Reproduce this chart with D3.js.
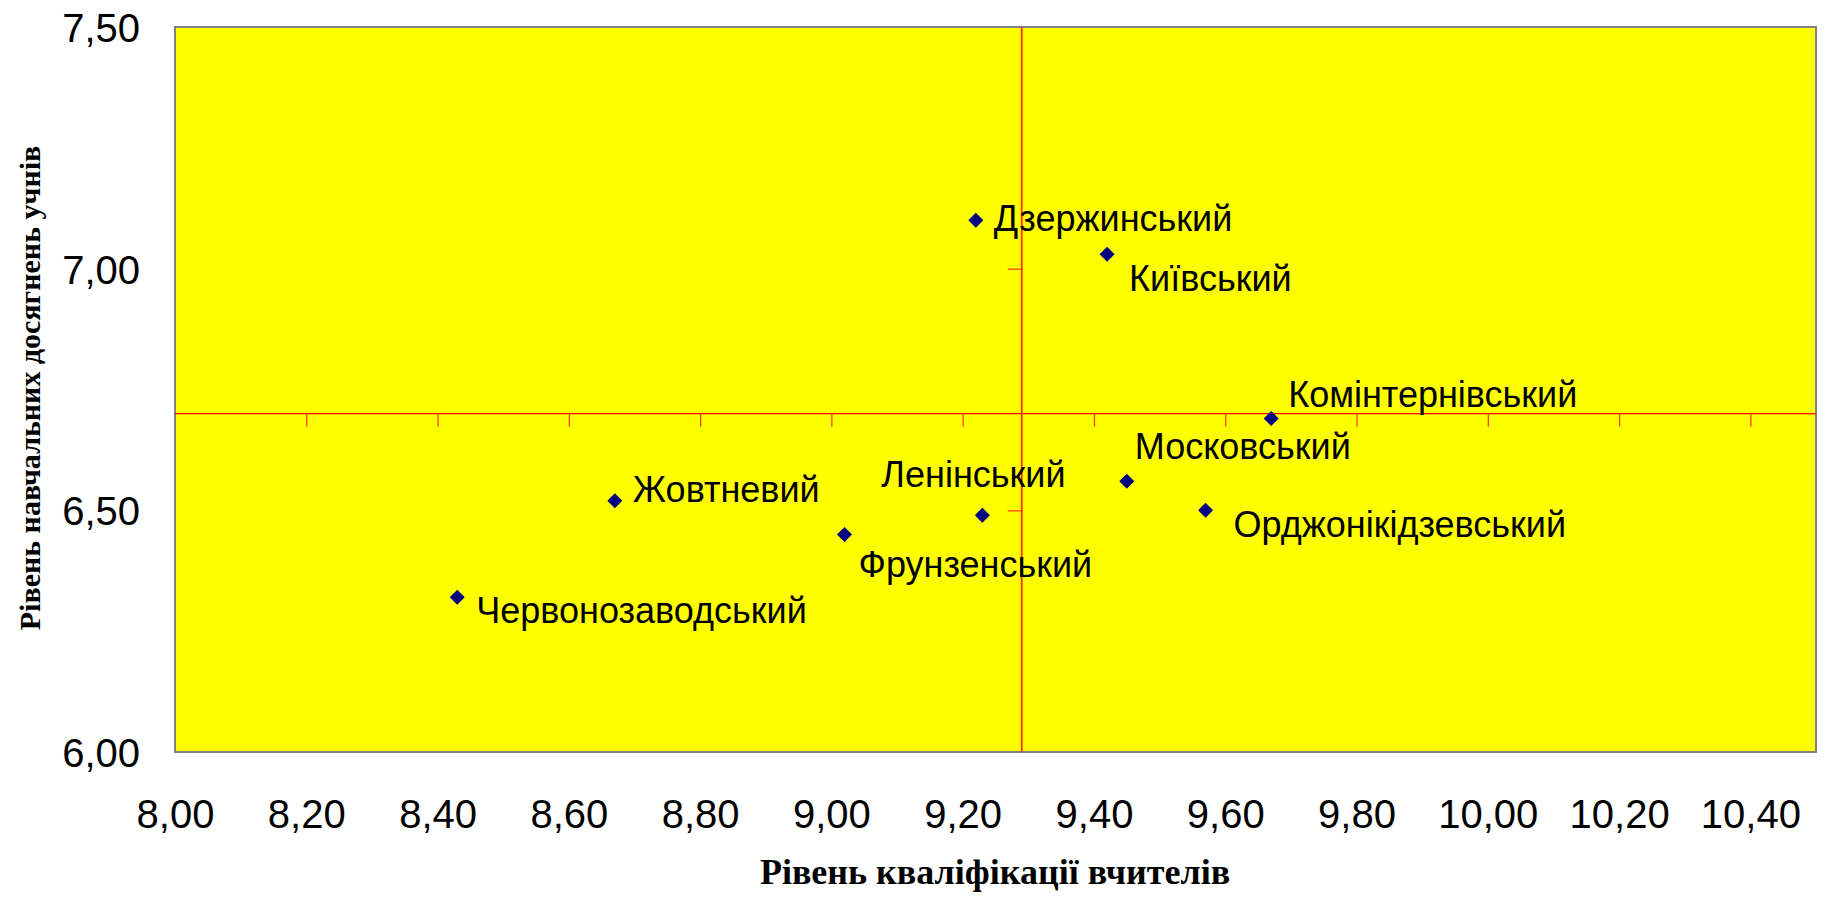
<!DOCTYPE html>
<html>
<head>
<meta charset="utf-8">
<script src="https://cdn.jsdelivr.net/npm/d3@7"></script>
<style>
  html, body { margin: 0; padding: 0; background: #ffffff; }
  svg { display: block; }
</style>
</head>
<body>
<svg id="chart" width="1829" height="897"></svg>
<script>
// ---- data ----
const districts = ["Дзержинський", "Київський", "Комінтернівський", "Московський", "Орджонікідзевський", "Ленінський", "Фрунзенський", "Жовтневий", "Червонозаводський"];
const teacherLevel = [9.22, 9.42, 9.67, 9.45, 9.57, 9.23, 9.02, 8.67, 8.43];
const studentLevel = [7.10, 7.03, 6.69, 6.56, 6.50, 6.49, 6.45, 6.52, 6.32];
const xTicks = [8.0, 8.2, 8.4, 8.6, 8.8, 9.0, 9.2, 9.4, 9.6, 9.8, 10.0, 10.2, 10.4];
const yTicks = [6.0, 6.5, 7.0, 7.5];
const xCross = 9.29;
const yCross = 6.70;
const xTitle = "Рівень кваліфікації вчителів";
const yTitle = "Рівень навчальних досягнень учнів";

// label layout (manual placement offsets, pixels from marker)
const labelOffsets = [[18, 11], [22, 37], [17, -12], [8, -22], [28, 27], [-101, -28], [14, 42], [18, 1], [19, 26]];

// ---- layout ----
const plot = { left: 175, top: 27, right: 1816, bottom: 752 };
const svg = d3.select("#chart");

const x = d3.scaleLinear().domain([8.0, 10.5]).range([plot.left, plot.right]);
const y = d3.scaleLinear().domain([6.0, 7.5]).range([plot.bottom, plot.top]);
const fmt = v => d3.format(".2f")(v).replace(".", ",");

// plot area
svg.append("rect")
  .attr("x", plot.left).attr("y", plot.top)
  .attr("width", plot.right - plot.left).attr("height", plot.bottom - plot.top)
  .attr("fill", "#ffff00").attr("stroke", "#808080").attr("stroke-width", 2);

// crossing axes
svg.append("line")
  .attr("x1", plot.left).attr("x2", plot.right)
  .attr("y1", y(yCross)).attr("y2", y(yCross))
  .attr("stroke", "#ff0000").attr("stroke-width", 1.2);
svg.append("line")
  .attr("x1", x(xCross)).attr("x2", x(xCross))
  .attr("y1", plot.top).attr("y2", plot.bottom)
  .attr("stroke", "#ff3300").attr("stroke-width", 1.8);

// tick marks on crossing axes
const xTickAxis = svg.append("g")
  .attr("transform", `translate(0,${y(yCross)})`)
  .call(d3.axisBottom(x).tickValues(xTicks.filter(v => v > 8.0)).tickSize(13).tickFormat(""));
xTickAxis.select(".domain").remove();
xTickAxis.selectAll("line").attr("stroke", "#ff3300").attr("stroke-width", 1.2);

const yTickAxis = svg.append("g")
  .attr("transform", `translate(${x(xCross)},0)`)
  .call(d3.axisLeft(y).tickValues(yTicks.filter(v => v > 6.0 && v < 7.5)).tickSize(14).tickFormat(""));
yTickAxis.select(".domain").remove();
yTickAxis.selectAll("line").attr("stroke", "#ff3300").attr("stroke-width", 1.2);

// tick labels (outer axes)
const xAxis = svg.append("g")
  .attr("transform", `translate(0,${plot.bottom})`)
  .call(d3.axisBottom(x).tickValues(xTicks).tickSize(0).tickPadding(0).tickFormat(fmt));
xAxis.select(".domain").remove();
xAxis.selectAll("text")
  .attr("y", 76).attr("dy", 0)
  .attr("font-family", "'Liberation Sans', Arial, sans-serif")
  .attr("font-size", 40).attr("fill", "#000");

const yAxis = svg.append("g")
  .attr("transform", `translate(${plot.left},0)`)
  .call(d3.axisLeft(y).tickValues(yTicks).tickSize(0).tickPadding(0).tickFormat(fmt));
yAxis.select(".domain").remove();
yAxis.selectAll("text")
  .attr("x", -35).attr("dy", "0.36em")
  .attr("font-family", "'Liberation Sans', Arial, sans-serif")
  .attr("font-size", 40).attr("fill", "#000");

// axis titles
svg.append("text")
  .attr("x", 995).attr("y", 884)
  .attr("text-anchor", "middle")
  .attr("font-family", "'Liberation Serif', 'Times New Roman', serif")
  .attr("font-weight", "bold").attr("font-size", 36)
  .text(xTitle);
svg.append("text")
  .attr("transform", "translate(40,388) rotate(-90)")
  .attr("text-anchor", "middle")
  .attr("font-family", "'Liberation Serif', 'Times New Roman', serif")
  .attr("font-weight", "bold").attr("font-size", 30)
  .text(yTitle);

// points
const pts = districts.map((d, i) => ({ name: d, xv: teacherLevel[i], yv: studentLevel[i], off: labelOffsets[i] }));
const diamond = "M0,-7.5L7.5,0L0,7.5L-7.5,0Z";
svg.append("g").selectAll("path")
  .data(pts).join("path")
  .attr("d", diamond)
  .attr("transform", d => `translate(${x(d.xv)},${y(d.yv)})`)
  .attr("fill", "#000080");

svg.append("g").selectAll("text")
  .data(pts).join("text")
  .attr("x", d => x(d.xv) + d.off[0])
  .attr("y", d => y(d.yv) + d.off[1])
  .attr("font-family", "'Liberation Sans', Arial, sans-serif")
  .attr("font-size", 36).attr("fill", "#000")
  .text(d => d.name);
</script>
</body>
</html>
